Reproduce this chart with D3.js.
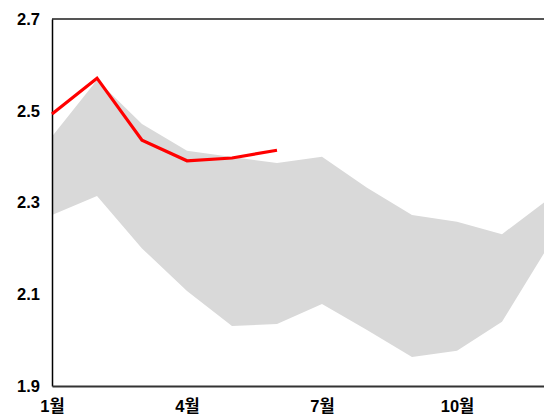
<!DOCTYPE html>
<html>
<head>
<meta charset="utf-8">
<script src="https://cdn.jsdelivr.net/npm/d3@7"></script>
<style>
  body { margin: 0; background: #fff; }
  text { font-family: "Liberation Sans", "Noto Sans CJK KR", sans-serif; font-weight: bold; }
</style>
</head>
<body>
<div id="chart"></div>
<script>
const months = [1, 2, 3, 4, 5, 6, 7, 8, 9, 10, 11, 12];
const bandHigh = [2.444, 2.567, 2.471, 2.413, 2.399, 2.386, 2.400, 2.332, 2.273, 2.258, 2.231, 2.305];
const bandLow = [2.273, 2.314, 2.200, 2.107, 2.031, 2.035, 2.079, 2.022, 1.963, 1.977, 2.040, 2.200];
const current = [2.493, 2.571, 2.436, 2.391, 2.397, 2.414];
const yTicks = [1.9, 2.1, 2.3, 2.5, 2.7];
const xTicks = [1, 4, 7, 10];

const width = 544, height = 418;
const margin = { top: 19, right: -3, bottom: 32, left: 52 };

const svg = d3.select('#chart')
  .append('svg')
  .attr('width', width)
  .attr('height', height);

const x = d3.scaleLinear()
  .domain([1, 12])
  .range([margin.left, width - margin.right]);

const y = d3.scaleLinear()
  .domain([1.9, 2.7])
  .range([height - margin.bottom, margin.top]);

// gray range band
const area = d3.area()
  .x((d, i) => x(months[i]))
  .y0((d, i) => y(bandLow[i]))
  .y1(d => y(d));

svg.append('path')
  .datum(bandHigh)
  .attr('fill', '#d9d9d9')
  .attr('d', area);

// top border
svg.append('line')
  .attr('x1', margin.left).attr('x2', width)
  .attr('y1', y(2.7)).attr('y2', y(2.7))
  .attr('stroke', '#555').attr('stroke-width', 2);

// axes
const yAxis = svg.append('g')
  .attr('transform', `translate(${margin.left},0)`)
  .call(d3.axisLeft(y).tickValues(yTicks).tickSize(0).tickPadding(12).tickFormat(d3.format('.1f')));
yAxis.select('.domain').attr('stroke', '#000').attr('stroke-width', 1.5);
yAxis.selectAll('text').attr('font-size', 16.5).attr('fill', '#000');

const xAxis = svg.append('g')
  .attr('transform', `translate(0,${y(1.9)})`)
  .call(d3.axisBottom(x).tickValues(xTicks).tickSize(0).tickPadding(14).tickFormat(d => d + '월'));
xAxis.select('.domain').attr('stroke', '#333').attr('stroke-width', 2);
xAxis.selectAll('text').attr('font-size', 16.5).attr('fill', '#000');

// current year line
const line = d3.line()
  .x((d, i) => x(months[i]))
  .y(d => y(d));

svg.append('path')
  .datum(current)
  .attr('fill', 'none')
  .attr('stroke', '#ff0000')
  .attr('stroke-width', 3.2)
  .attr('stroke-linejoin', 'miter')
  .attr('d', line);
</script>
</body>
</html>
